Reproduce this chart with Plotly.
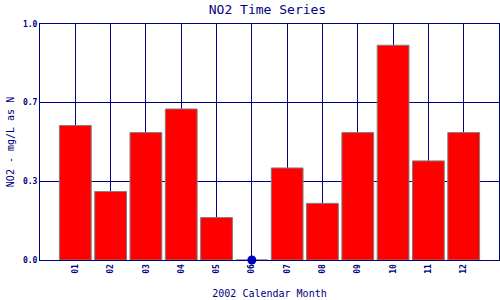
import plotly.graph_objects as go

months = ["01", "02", "03", "04", "05", "06", "07", "08", "09", "10", "11", "12"]
no2_values = [0.57, 0.29, 0.54, 0.64, 0.18, 0.0, 0.39, 0.24, 0.54, 0.91, 0.42, 0.54]
y_tick_vals = [0.0, 1/3, 2/3, 1.0]
y_tick_text = ["0.0", "0.3", "0.7", "1.0"]

NAVY = "#000080"
FONT = "DejaVu Sans Mono"

xpos = list(range(1, len(months) + 1))

fig = go.Figure()
fig.add_trace(go.Bar(
    x=xpos, y=no2_values, width=0.9,
    marker=dict(color="#ff0000", line=dict(color="#808080", width=1)),
    showlegend=False,
))
zero_x = [x for x, v in zip(xpos, no2_values) if v == 0]
zero_y = [v for v in no2_values if v == 0]
fig.add_trace(go.Scatter(
    x=zero_x, y=zero_y, mode="markers",
    marker=dict(color="#0000cc", size=9, line=dict(width=0)),
    cliponaxis=False, showlegend=False,
))

fig.update_layout(
    width=500, height=300,
    margin=dict(l=40, r=1, t=24, b=40),
    paper_bgcolor="white", plot_bgcolor="white",
    font=dict(family=FONT, color=NAVY),
    title=dict(text="NO2 Time Series", x=0.535, xanchor="center", y=0.97, yanchor="middle",
               font=dict(family=FONT, size=13, color=NAVY)),
    xaxis=dict(
        range=[0, 13], tickmode="array", tickvals=xpos, ticktext=months,
        tickangle=-90, tickfont=dict(family=FONT, size=8, color=NAVY, weight="bold"),
        showgrid=True, gridcolor=NAVY, gridwidth=1,
        showline=True, linecolor=NAVY, linewidth=1, mirror=True,
        ticks="", zeroline=False,
        title=dict(text="2002 Calendar Month", font=dict(family=FONT, size=10, color=NAVY), standoff=17),
    ),
    yaxis=dict(
        range=[0, 1], tickmode="array", tickvals=y_tick_vals, ticktext=y_tick_text,
        tickfont=dict(family=FONT, size=8, color=NAVY, weight="bold"),
        showgrid=True, gridcolor=NAVY, gridwidth=1,
        showline=True, linecolor=NAVY, linewidth=1, mirror=True,
        ticks="", zeroline=False,
        title=dict(text="NO2 - mg/L as N", font=dict(family=FONT, size=10, color=NAVY), standoff=6),
    ),
    bargap=0.1,
)

fig.write_html("out.html")
